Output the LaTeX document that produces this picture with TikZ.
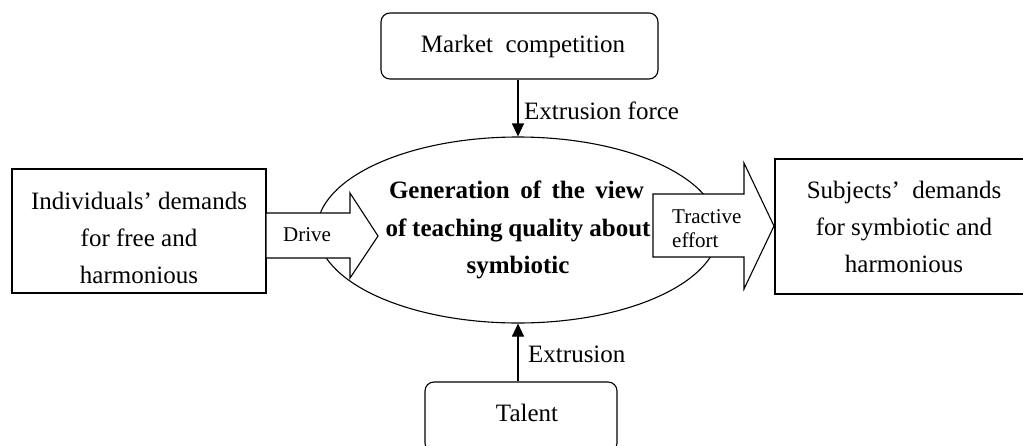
\documentclass[tikz,border=0pt]{standalone}
\usepackage{fontspec}
\setmainfont{Liberation Serif}
\usetikzlibrary{arrows.meta,shapes.geometric}
\begin{document}
\begin{tikzpicture}[x=1pt,y=-1pt,
  boxstyle/.style={draw,line width=1.1pt,align=center,inner sep=0pt,font=\fontsize{25}{37}\selectfont},
  rboxstyle/.style={boxstyle,rounded corners=9pt},
  lbl/.style={font=\fontsize{25}{30}\selectfont,inner sep=0pt},
  smalltxt/.style={font=\fontsize{21}{24}\selectfont,inner sep=0pt,align=left},
  pusharrow/.style={line width=1.1pt,-{Triangle[length=13pt,width=12pt]}},
  blockarrow/.style={draw,line width=1.1pt,fill=white,line join=miter}]
\useasboundingbox (0,0) rectangle (1023,445);
\clip (0,0) rectangle (1023,445);
% central ellipse
\node[ellipse,draw,line width=1.1pt,minimum width=402,minimum height=186,inner sep=0pt,align=center,
      font=\bfseries\fontsize{25}{37.5}\selectfont] (gen) at (518,230)
  {\makebox[255pt][s]{Generation of the view}\hspace*{3pt}\\\makebox[265pt][s]{of teaching quality about}\hspace*{10pt}\\symbiotic};
% side boxes
\node[boxstyle,minimum width=254,minimum height=124] (indiv) at (139,231)
  {\rule{0pt}{31pt}Individuals’ demands\\for free and\\harmonious};
\node[boxstyle,minimum width=258,minimum height=135] (subj) at (904,226.5)
  {Subjects’\ \ demands\\for symbiotic and\\harmonious};
% block arrows
\draw[blockarrow] (266,213) -- (350,213) -- (350,193) -- (378,236) -- (350,278) -- (350,258) -- (266,258) -- cycle;
\node[smalltxt,anchor=base] (drive) at (307,241) {Drive};
\draw[blockarrow] (653,194) -- (744,194) -- (744,163) -- (774,226) -- (744,289) -- (744,257) -- (653,257) -- cycle;
\node[smalltxt,anchor=west] (tract) at (672,229) {Tractive\\effort};
% top and bottom boxes
\node[rboxstyle,minimum width=277,minimum height=66] (market) at (519.5,46) {\hspace*{7pt}Market\ \ competition};
\node[rboxstyle,minimum width=192,minimum height=70,text height=17pt,text depth=9pt] (talent) at (521,417) {\hspace*{12pt}Talent};
% thin arrows
\draw[pusharrow] (gen.north |- market.south) -- (gen.north);
\draw[pusharrow] (gen.south |- talent.north) -- (gen.south);
\node[lbl,anchor=base west] (ef) at (524,119) {Extrusion force};
\node[lbl,anchor=base west] (ex) at (528,362) {Extrusion};
\end{tikzpicture}
\end{document}
